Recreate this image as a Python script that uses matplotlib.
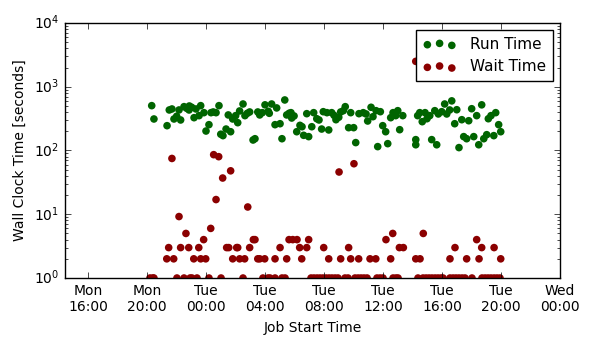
import numpy as np
import pandas as pd
import matplotlib
matplotlib.use("Agg")
import matplotlib.pyplot as plt
import matplotlib.dates as mdates

plt.style.use("classic")
plt.rcParams.update({
    "font.size": 10,
    "font.family": ["DejaVu Sans"],
    "savefig.facecolor": "white",
    "figure.facecolor": "white",
})

# =========================
# data: job start (hours since Mon 00:00) and times in seconds
# =========================
DAY0 = pd.Timestamp("2013-03-04")  # a Monday

run_hours = [
    20.32, 20.47, 21.36, 21.51, 21.69, 21.83, 22.01, 22.28, 22.17, 22.51,
    22.69, 22.87, 23.03, 23.32, 23.64, 22.85, 23.19, 23.53, 23.86, 24.34,
    24.49, 24.20, 24.00, 24.88, 24.68, 25.00, 25.15, 25.36, 25.67, 25.51,
    25.81, 26.01, 26.15, 26.28, 26.51, 26.64, 26.80, 26.96, 27.19, 27.32,
    27.51, 27.64, 27.82, 28.00, 28.22, 28.29, 28.45, 28.79, 28.68, 29.02,
    29.15, 29.34, 29.47, 29.63, 29.76, 29.97, 29.81, 30.15, 30.37, 30.51,
    30.62, 30.96, 30.83, 31.30, 31.17, 31.51, 31.66, 31.84, 32.32, 31.95,
    32.20, 32.52, 32.68, 32.81, 33.00, 33.13, 33.31, 33.44, 33.81, 33.67,
    34.01, 34.15, 34.37, 34.66, 34.85, 34.96, 35.19, 35.53, 35.82, 35.32,
    35.98, 36.18, 35.64, 36.32, 36.52, 36.68, 36.86, 37.00, 37.34, 37.13,
    38.22, 38.22, 38.35, 38.49, 38.66, 38.85, 38.98, 39.17, 39.51, 39.75,
    39.30, 39.64, 40.18, 40.66, 39.98, 40.32, 40.52, 41.00, 40.86, 41.34,
    41.81, 41.15, 41.47, 41.67, 42.01, 42.35, 42.15, 42.49, 42.69, 42.83,
    43.03, 43.14, 43.32, 43.64, 43.51, 43.84, 43.98,
]
run_secs = [
    505, 312, 245, 432, 448, 312, 344, 301, 432, 487,
    459, 499, 476, 448, 505, 432, 327, 352, 392, 392,
    402, 254, 202, 505, 392, 180, 171, 217, 197, 361,
    312, 352, 273, 417, 536, 352, 383, 402, 146, 153,
    402, 361, 392, 520, 412, 383, 536, 465, 254, 263,
    153, 620, 361, 383, 392, 348, 323, 197, 248, 236,
    173, 165, 378, 392, 236, 315, 301, 217, 210, 406,
    392, 392, 356, 304, 332, 402, 421, 487, 392, 228,
    228, 133, 378, 392, 374, 290, 476, 421, 406, 339,
    245, 197, 115, 128, 327, 392, 352, 421, 352, 212,
    148, 123, 352, 392, 283, 392, 315, 352, 421, 374,
    148, 123, 536, 600, 406, 374, 432, 436, 263, 304,
    293, 111, 165, 153, 452, 352, 165, 123, 520, 153,
    177, 315, 352, 392, 171, 254, 197,
]

wait_hours = [
    21.69, 24.52, 24.86, 25.67, 25.13, 24.68, 22.17, 26.83, 22.64, 21.47,
    22.28, 22.83, 23.51, 21.34, 21.81, 23.17, 23.64, 23.98, 23.84, 24.32,
    27.21, 27.32, 29.63, 25.40, 25.54, 26.08, 26.15, 26.96, 29.02, 25.81,
    26.28, 26.62, 27.51, 27.64, 27.98, 28.68, 29.47, 29.88, 30.17, 30.96,
    30.35, 30.83, 31.98, 33.67, 30.49, 32.32, 33.13, 33.81, 34.35, 33.02,
    34.03, 35.12, 35.51, 36.20, 36.66, 37.11, 37.38, 36.52, 38.22, 38.51,
    38.73, 38.22, 40.54, 40.88, 41.67, 42.35, 42.51, 42.69, 43.53, 43.98,
    # jobs that waited ~1 s
    20.20, 20.39, 20.47, 22.03, 22.51, 22.92, 23.05, 23.39, 24.20, 25.02,
    26.51, 27.86, 28.20, 28.34, 28.68, 29.15, 29.36, 31.12, 31.32, 31.53,
    31.73, 31.93, 32.14, 32.34, 32.54, 32.75, 32.95, 33.42, 33.63, 34.10,
    34.31, 34.51, 34.71, 34.92, 35.59, 35.80, 36.00, 36.68, 36.88, 37.02,
    38.37, 38.71, 38.92, 39.12, 39.32, 39.53, 39.73, 39.93, 40.07, 40.54,
    40.75, 40.95, 41.15, 41.36, 41.56, 42.03, 42.71, 42.92, 43.12, 43.32,
    43.53, 43.73, 43.93,
]
wait_secs = [
    75, 86, 80, 48, 37, 17, 9.2, 13, 5, 3,
    3, 3, 3, 2, 2, 2, 2, 2, 4, 6,
    4, 4, 4, 3, 3, 3, 3, 3, 3, 2,
    2, 2, 2, 2, 2, 2, 2, 4, 4, 4,
    3, 3, 3, 3, 2, 2, 2, 2, 2, 46,
    62, 2, 2, 4, 5, 3, 3, 2, 2, 2,
    5, 2500, 2, 3, 2, 4, 2, 3, 3, 2,
] + [1] * 63

run_t = DAY0 + pd.to_timedelta(run_hours, unit="h")
wait_t = DAY0 + pd.to_timedelta(wait_hours, unit="h")

# =========================
# figure
# =========================
fig = plt.figure(figsize=(5.94, 3.48), dpi=100)
ax = fig.add_axes([0.1094, 0.2011, 0.8334, 0.7329])

ax.scatter(run_t, run_secs, s=30, color="#006400", edgecolors="none", label="Run Time")
ax.scatter(wait_t, wait_secs, s=30, color="#8b0000", edgecolors="none", label="Wait Time")

ax.set_yscale("log")
ax.set_ylim(1, 1e4)
ax.set_xlim(DAY0 + pd.Timedelta(hours=14.44), DAY0 + pd.Timedelta(hours=48))

ax.xaxis.set_major_locator(mdates.HourLocator(byhour=range(0, 24, 4)))
ax.xaxis.set_major_formatter(mdates.DateFormatter("%a\n%H:%M"))

ax.set_xlabel("Job Start Time")
ax.set_ylabel("Wall Clock Time [seconds]")

ax.legend(loc="upper right", scatterpoints=3, fontsize=11,
          scatteryoffsets=[0.375, 0.5, 0.3125], labelspacing=0.5,
          borderpad=0.45, handlelength=2.2, handletextpad=0.9,
          borderaxespad=0.45)

fig.savefig("out.png", dpi=100)
